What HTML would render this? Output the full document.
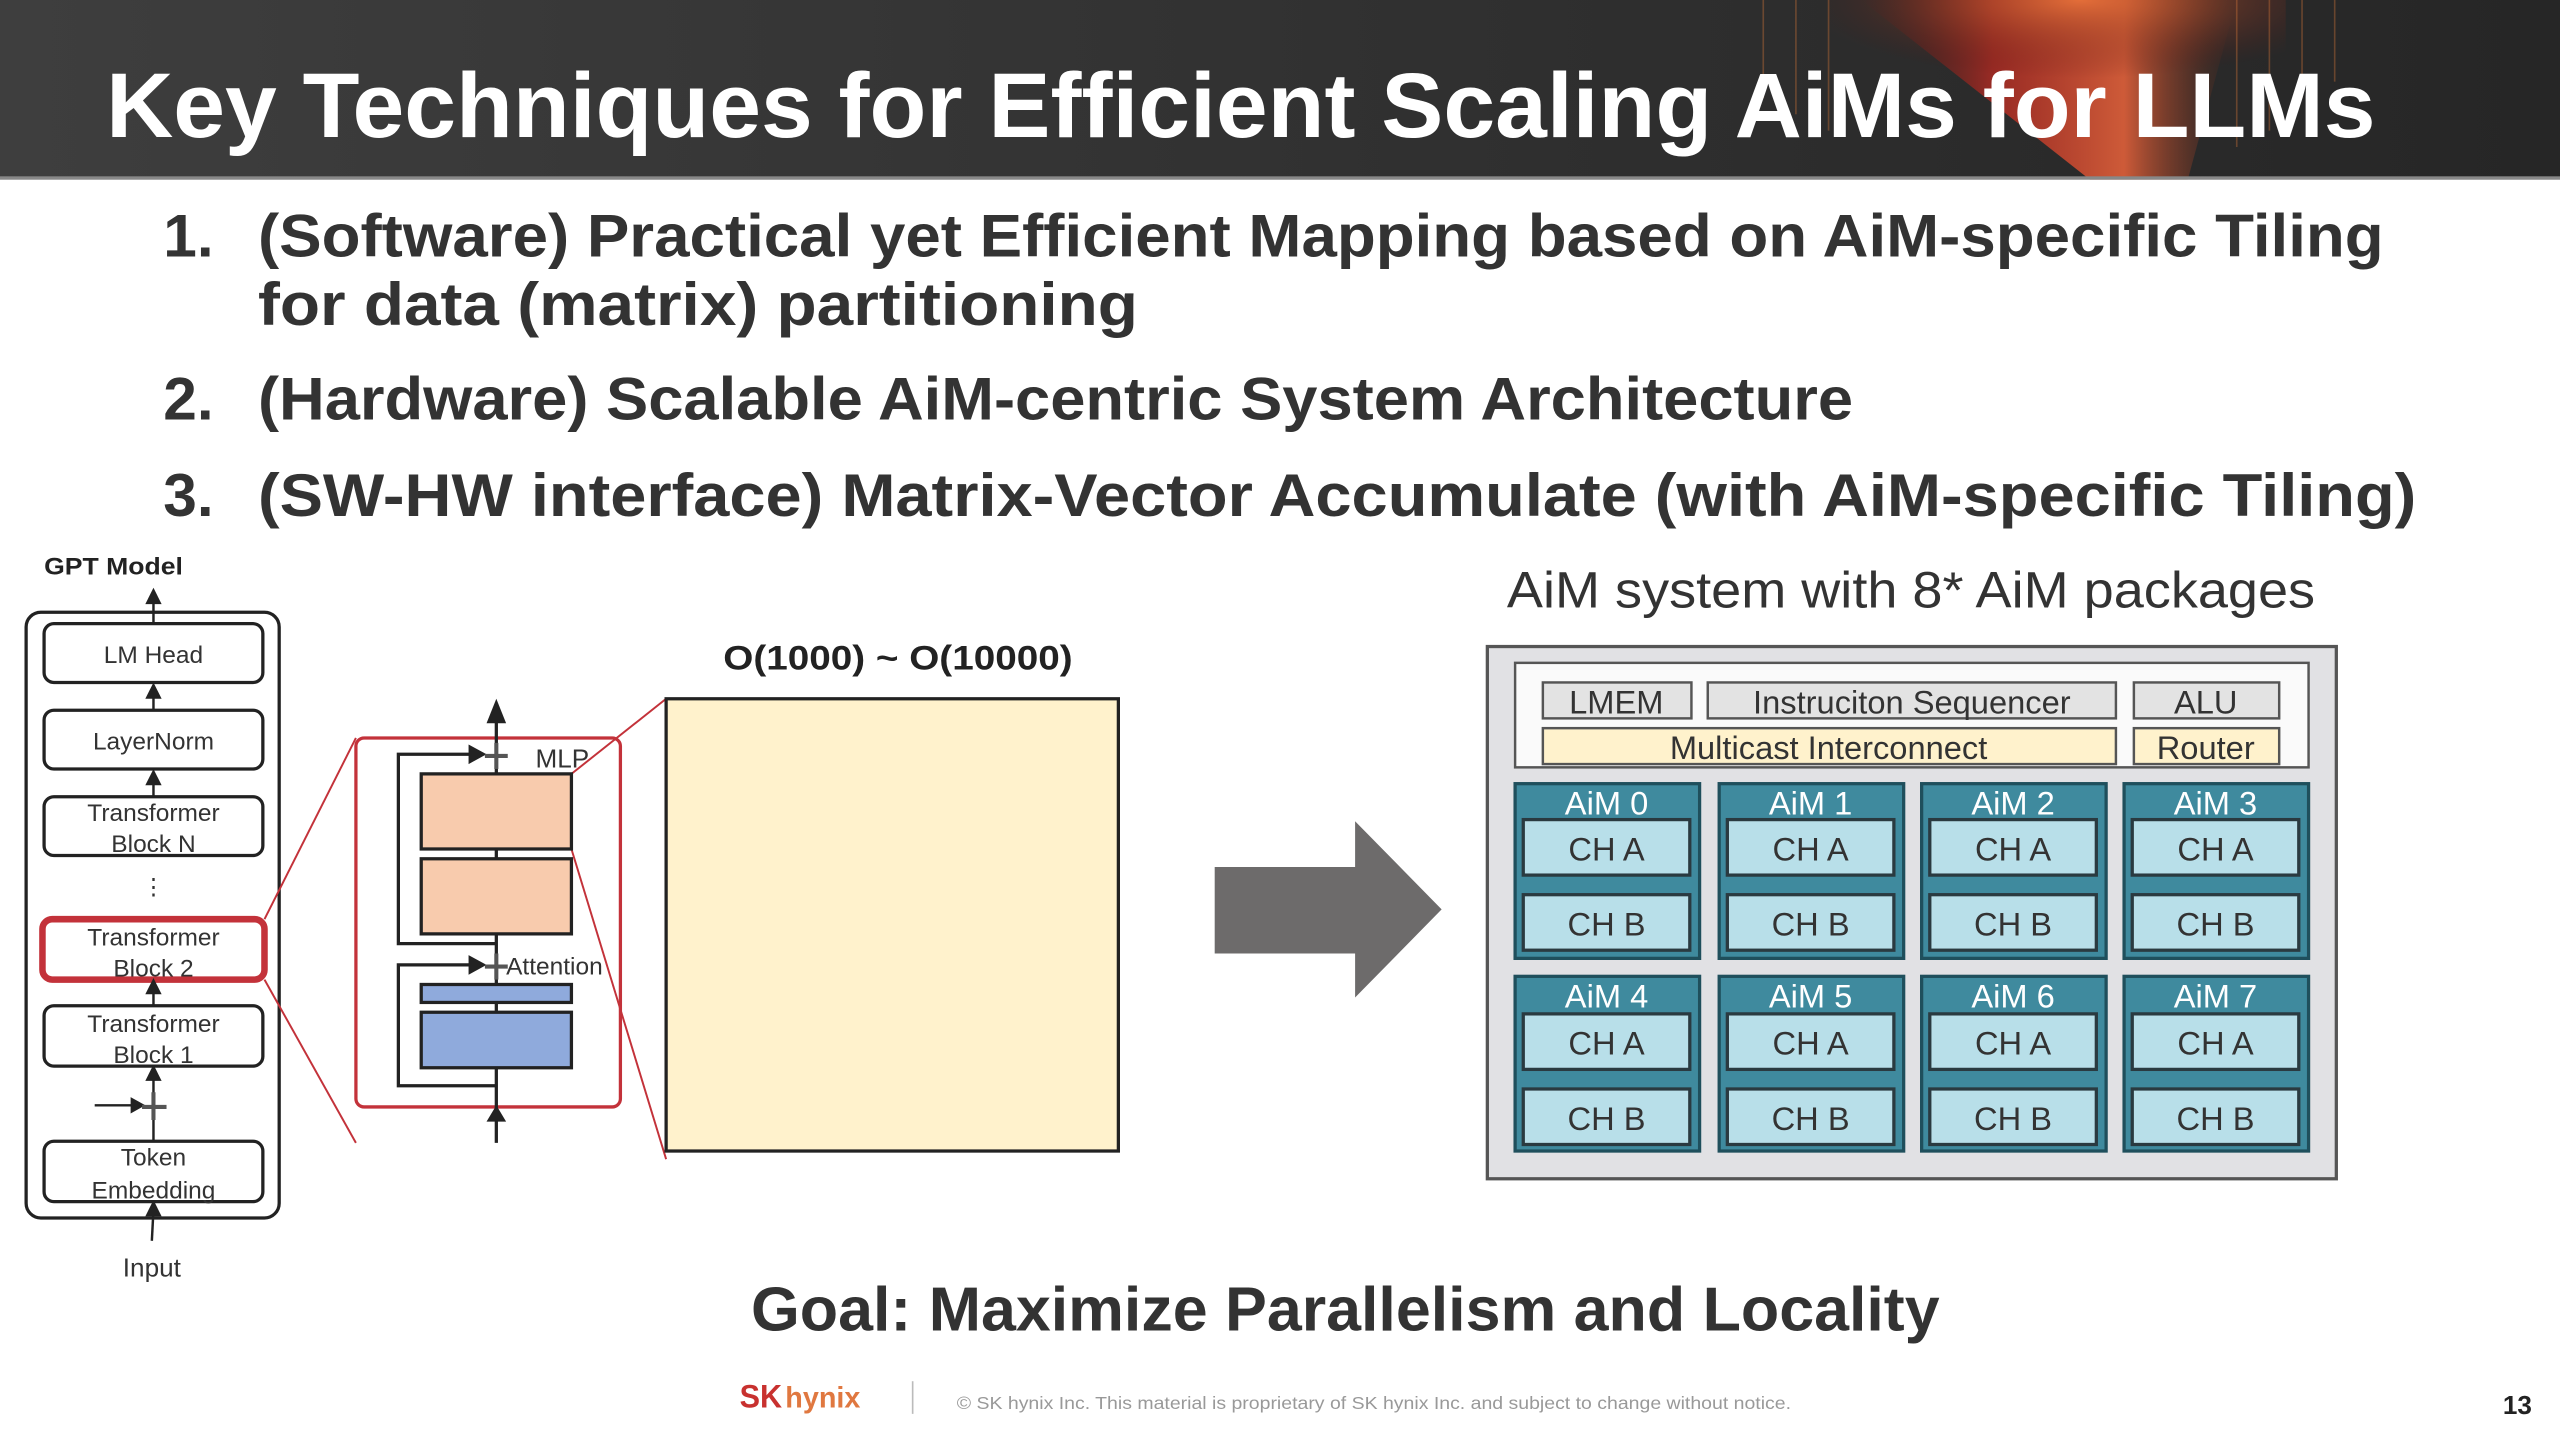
<!DOCTYPE html>
<html><head><meta charset="utf-8"><style>
html,body{margin:0;padding:0;background:#fff;width:2560px;height:1440px;overflow:hidden}
svg{display:block}
text{font-family:"Liberation Sans",sans-serif}
</style></head><body>
<svg width="2560" height="1440" viewBox="0 0 1568 882" xmlns="http://www.w3.org/2000/svg">
<defs>
<linearGradient id="hd" x1="0" x2="1" y1="0" y2="0">
<stop offset="0" stop-color="#3e3e3e"/><stop offset="0.6" stop-color="#2f2f2f"/><stop offset="1" stop-color="#262626"/>
</linearGradient>
<linearGradient id="streak" x1="0" x2="1" y1="0" y2="0">
<stop offset="0" stop-color="#5a1512" stop-opacity="0"/><stop offset="0.35" stop-color="#b42a22" stop-opacity="0.8"/><stop offset="0.7" stop-color="#e0603a" stop-opacity="0.9"/><stop offset="1" stop-color="#6a2a18" stop-opacity="0"/>
</linearGradient>
<radialGradient id="glow" cx="0.55" cy="0" r="0.6">
<stop offset="0" stop-color="#e8723a" stop-opacity="0.9"/><stop offset="1" stop-color="#5a1512" stop-opacity="0"/>
</radialGradient>
</defs>

<!-- header -->
<rect x="0" y="0" width="1568" height="110" fill="url(#hd)"/>
<polygon points="1140,0 1370,0 1340,110 1280,110" fill="url(#streak)"/>
<rect x="1120" y="0" width="280" height="80" fill="url(#glow)"/>
<g stroke="#e07a3a" stroke-opacity="0.35" stroke-width="1">
<line x1="1080" y1="0" x2="1080" y2="60"/><line x1="1100" y1="0" x2="1100" y2="70"/><line x1="1120" y1="0" x2="1120" y2="80"/>
<line x1="1370" y1="0" x2="1370" y2="90"/><line x1="1390" y1="0" x2="1390" y2="80"/><line x1="1410" y1="0" x2="1410" y2="60"/><line x1="1430" y1="0" x2="1430" y2="50"/>
</g>
<rect x="0" y="108" width="1568" height="2" fill="#888"/>
<text x="65" y="84" font-size="56" font-weight="bold" fill="#fff" textLength="1390" lengthAdjust="spacingAndGlyphs">Key Techniques for Efficient Scaling AiMs for LLMs</text>

<!-- bullets -->
<g font-weight="bold" fill="#333" font-size="37">
<text x="100" y="157">1.</text>
<text x="158" y="157" textLength="1302" lengthAdjust="spacingAndGlyphs">(Software) Practical yet Efficient Mapping based on AiM-specific Tiling</text>
<text x="158" y="199" textLength="539" lengthAdjust="spacingAndGlyphs">for data (matrix) partitioning</text>
<text x="100" y="257">2.</text>
<text x="158" y="257" textLength="977" lengthAdjust="spacingAndGlyphs">(Hardware) Scalable AiM-centric System Architecture</text>
<text x="100" y="316">3.</text>
<text x="158" y="316" textLength="1322" lengthAdjust="spacingAndGlyphs">(SW-HW interface) Matrix-Vector Accumulate (with AiM-specific Tiling)</text>
</g>

<!-- GPT model -->
<text x="27" y="352" font-size="15" font-weight="bold" fill="#222" textLength="85" lengthAdjust="spacingAndGlyphs">GPT Model</text>
<rect x="16" y="375" width="155" height="371" rx="9" fill="none" stroke="#222" stroke-width="2"/>
<g fill="#fff" stroke="#222" stroke-width="2">
<rect x="27" y="382" width="134" height="36" rx="6"/>
<rect x="27" y="435" width="134" height="36" rx="6"/>
<rect x="27" y="488" width="134" height="36" rx="6"/>
<rect x="27" y="616" width="134" height="37" rx="6"/>
<rect x="27" y="699" width="134" height="37" rx="6"/>
</g>
<rect x="26" y="563" width="136" height="37" rx="6" fill="#fff" stroke="#c3323a" stroke-width="4"/>
<g font-size="15" fill="#333" text-anchor="middle">
<text x="94" y="406">LM Head</text>
<text x="94" y="459">LayerNorm</text>
<text x="94" y="503">Transformer</text><text x="94" y="522">Block N</text>
<text x="94" y="579">Transformer</text><text x="94" y="598">Block 2</text>
<text x="94" y="632">Transformer</text><text x="94" y="651">Block 1</text>
<text x="94" y="714">Token</text><text x="94" y="734">Embedding</text>
<text x="93" y="782" font-size="16">Input</text>
</g>
<text x="94" y="548" font-size="14" fill="#333" text-anchor="middle">⋮</text>
<g stroke="#222" stroke-width="1.5">
<line x1="94" y1="382" x2="94" y2="366"/>
<line x1="94" y1="435" x2="94" y2="424"/>
<line x1="94" y1="488" x2="94" y2="477"/>
<line x1="94" y1="616" x2="94" y2="605"/>
<line x1="94" y1="699" x2="94" y2="658"/>
<line x1="93" y1="760" x2="94" y2="741"/>
<line x1="58" y1="677" x2="82" y2="677"/>
</g>
<g fill="#222">
<path d="M89,370 L94,360 L99,370 Z"/><path d="M89,428 L94,418 L99,428 Z"/><path d="M89,481 L94,471 L99,481 Z"/>
<path d="M89,609 L94,599 L99,609 Z"/><path d="M89,662 L94,652 L99,662 Z"/><path d="M89,745 L94,735 L99,745 Z"/>
<path d="M80,672 L89,677 L80,682 Z"/>
</g>
<g stroke="#555" stroke-width="2.5"><line x1="94" y1="669" x2="94" y2="686"/><line x1="87" y1="678" x2="102" y2="678"/></g>

<!-- zoom lines -->
<g stroke="#c3323a" stroke-width="1.2" fill="none">
<line x1="162" y1="563" x2="218" y2="452"/>
<line x1="162" y1="600" x2="218" y2="700"/>
<line x1="350" y1="474" x2="408" y2="428"/>
<line x1="350" y1="520" x2="408" y2="710"/>
</g>
<rect x="218" y="452" width="162" height="226" rx="5" fill="none" stroke="#c3323a" stroke-width="2"/>

<!-- block internals -->
<g stroke="#222" stroke-width="2" fill="none">
<line x1="304" y1="700" x2="304" y2="440"/>
<polyline points="304,578 244,578 244,462 292,462"/>
<polyline points="304,665 244,665 244,591 292,591"/>
</g>
<path d="M298,443 L304,428 L310,443 Z" fill="#222"/>
<path d="M298,687 L304,677 L310,687 Z" fill="#222"/>
<path d="M287,456 L298,462 L287,468 Z" fill="#222"/>
<path d="M287,585 L298,591 L287,597 Z" fill="#222"/>
<g stroke="#555" stroke-width="2.5">
<line x1="297" y1="463" x2="311" y2="463"/><line x1="304" y1="455" x2="304" y2="471"/>
<line x1="297" y1="592" x2="311" y2="592"/><line x1="304" y1="584" x2="304" y2="600"/>
</g>
<g stroke="#222" stroke-width="2">
<rect x="258" y="474" width="92" height="46" fill="#f8cbad"/>
<rect x="258" y="526" width="92" height="46" fill="#f8cbad"/>
<rect x="258" y="603" width="92" height="11" fill="#8faadc"/>
<rect x="258" y="620" width="92" height="34" fill="#8faadc"/>
</g>
<text x="328" y="470" font-size="16" fill="#333">MLP</text>
<text x="310" y="597" font-size="15" fill="#333">Attention</text>

<!-- matrix -->
<text x="443" y="410" font-size="21" font-weight="bold" fill="#222" textLength="214" lengthAdjust="spacingAndGlyphs">O(1000) ~ O(10000)</text>
<rect x="408" y="428" width="277" height="277" fill="#fff2cc" stroke="#222" stroke-width="2"/>

<!-- big arrow -->
<path d="M744,531 L830,531 L830,503 L883,557 L830,611 L830,584 L744,584 Z" fill="#6d6b6b"/>

<!-- AiM system -->
<text x="923" y="372" font-size="31" fill="#333" textLength="495" lengthAdjust="spacingAndGlyphs">AiM system with  8* AiM packages</text>
<rect x="911" y="396" width="520" height="326" fill="#e1e1e4" stroke="#555" stroke-width="2"/>
<rect x="928" y="406" width="486" height="64" fill="#fafafa" stroke="#555" stroke-width="1.5"/>
<g stroke="#555" stroke-width="1.5">
<rect x="945" y="418" width="91" height="22" fill="#e3e3e3"/>
<rect x="1046" y="418" width="250" height="22" fill="#e3e3e3"/>
<rect x="1307" y="418" width="89" height="22" fill="#e3e3e3"/>
<rect x="945" y="446" width="351" height="22" fill="#fff2cc"/>
<rect x="1307" y="446" width="89" height="22" fill="#fff2cc"/>
</g>
<g font-size="20" fill="#333" text-anchor="middle">
<text x="990" y="437">LMEM</text>
<text x="1171" y="437">Instruciton Sequencer</text>
<text x="1351" y="437">ALU</text>
<text x="1120" y="465">Multicast Interconnect</text>
<text x="1351" y="465">Router</text>
</g>

<g stroke="#1f4f5c" stroke-width="2">
<rect x="928" y="480" width="113" height="107" fill="#3f8a9e"/>
<rect x="1053" y="480" width="113" height="107" fill="#3f8a9e"/>
<rect x="1177" y="480" width="113" height="107" fill="#3f8a9e"/>
<rect x="1301" y="480" width="113" height="107" fill="#3f8a9e"/>
<rect x="928" y="598" width="113" height="107" fill="#3f8a9e"/>
<rect x="1053" y="598" width="113" height="107" fill="#3f8a9e"/>
<rect x="1177" y="598" width="113" height="107" fill="#3f8a9e"/>
<rect x="1301" y="598" width="113" height="107" fill="#3f8a9e"/>
<g fill="#b8dfe9" stroke="#2a3a40">
<rect x="933" y="502" width="102" height="34"/><rect x="933" y="548" width="102" height="34"/>
<rect x="1058" y="502" width="102" height="34"/><rect x="1058" y="548" width="102" height="34"/>
<rect x="1182" y="502" width="102" height="34"/><rect x="1182" y="548" width="102" height="34"/>
<rect x="1306" y="502" width="102" height="34"/><rect x="1306" y="548" width="102" height="34"/>
<rect x="933" y="621" width="102" height="34"/><rect x="933" y="667" width="102" height="34"/>
<rect x="1058" y="621" width="102" height="34"/><rect x="1058" y="667" width="102" height="34"/>
<rect x="1182" y="621" width="102" height="34"/><rect x="1182" y="667" width="102" height="34"/>
<rect x="1306" y="621" width="102" height="34"/><rect x="1306" y="667" width="102" height="34"/>
</g>
</g>
<g font-size="20" fill="#fff" text-anchor="middle">
<text x="984" y="499">AiM 0</text><text x="1109" y="499">AiM 1</text><text x="1233" y="499">AiM 2</text><text x="1357" y="499">AiM 3</text>
<text x="984" y="617">AiM 4</text><text x="1109" y="617">AiM 5</text><text x="1233" y="617">AiM 6</text><text x="1357" y="617">AiM 7</text>
</g>
<g font-size="20" fill="#333" text-anchor="middle">
<text x="984" y="527">CH A</text><text x="1109" y="527">CH A</text><text x="1233" y="527">CH A</text><text x="1357" y="527">CH A</text>
<text x="984" y="573">CH B</text><text x="1109" y="573">CH B</text><text x="1233" y="573">CH B</text><text x="1357" y="573">CH B</text>
<text x="984" y="646">CH A</text><text x="1109" y="646">CH A</text><text x="1233" y="646">CH A</text><text x="1357" y="646">CH A</text>
<text x="984" y="692">CH B</text><text x="1109" y="692">CH B</text><text x="1233" y="692">CH B</text><text x="1357" y="692">CH B</text>
</g>

<!-- goal -->
<text x="460" y="815" font-size="38" font-weight="bold" fill="#333" textLength="728" lengthAdjust="spacingAndGlyphs">Goal: Maximize Parallelism and Locality</text>

<!-- footer -->
<text x="453" y="862" font-size="20" font-weight="bold" fill="#c8312f" textLength="26" lengthAdjust="spacingAndGlyphs">SK</text>
<text x="481" y="862" font-size="18" font-weight="bold" fill="#e07840" textLength="46" lengthAdjust="spacingAndGlyphs">hynix</text>
<line x1="559" y1="846" x2="559" y2="866" stroke="#bbb" stroke-width="1"/>
<text x="586" y="863" font-size="11" fill="#999" textLength="511" lengthAdjust="spacingAndGlyphs">© SK hynix Inc. This material is proprietary of SK hynix Inc. and subject to change without notice.</text>
<text x="1533" y="866" font-size="16" font-weight="bold" fill="#222">13</text>
</svg>
</body></html>
